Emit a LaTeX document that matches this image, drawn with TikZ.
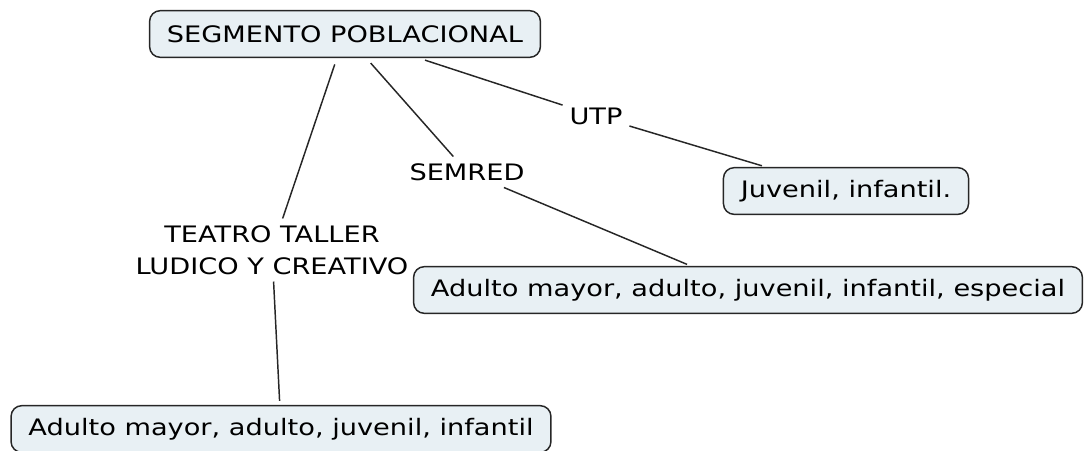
\documentclass[tikz,border=0pt]{standalone}
\usepackage{fontspec}
\setmainfont{DejaVu Sans}[FakeStretch=1.2]
\usetikzlibrary{positioning}
\definecolor{boxfill}{HTML}{E8F0F4}

\begin{document}
\begin{tikzpicture}[x=0.75pt,y=-0.75pt,
    concept/.style={draw=black!85, fill=boxfill, rounded corners=8pt, line width=1.1pt,
        inner xsep=13pt, minimum height=35pt, font=\fontsize{17}{24}\selectfont},
    linkword/.style={font=\fontsize{17}{24}\selectfont, inner sep=5pt, align=center},
    link/.style={line width=1.1pt, black!85}]
    \useasboundingbox (0,0) rectangle (1084,450);

    % concepts
    \node[concept] (segmento) at (345,34) {SEGMENTO POBLACIONAL};
    \node[concept] (juvenil) at (846,191) {Juvenil, infantil.};
    \node[concept] (semredbox) at (748,290) {Adulto mayor, adulto, juvenil, infantil, especial};
    \node[concept] (teatrobox) at (281,429) {Adulto mayor, adulto, juvenil, infantil};

    % linking words
    \node[linkword] (utp) at (596,116) {UTP};
    \node[linkword] (semred) at (467,172) {SEMRED};
    \node[linkword] (teatro) at (272,250) {TEATRO TALLER\\LUDICO Y CREATIVO};

    % links
    \draw[link, shorten <=5pt] (segmento) -- (utp);
    \draw[link, shorten >=3pt] (utp) -- (juvenil);
    \draw[link, shorten <=5pt] (segmento) -- (semred);
    \draw[link, shorten >=3pt] (semred) -- (semredbox);
    \draw[link, shorten <=5pt] (segmento) -- (teatro);
    \draw[link, shorten >=3pt] (teatro) -- (teatrobox);
\end{tikzpicture}
\end{document}
